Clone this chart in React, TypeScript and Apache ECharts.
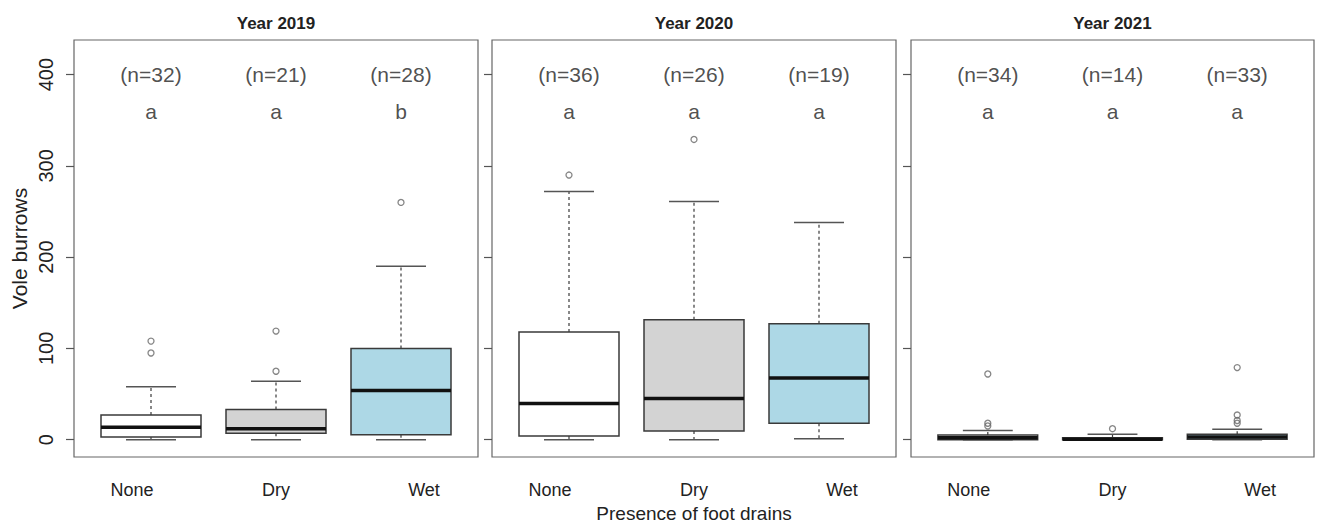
import React, { useEffect, useRef } from "react";
import * as echarts from "echarts";

// ---------- data ----------
const CATEGORIES = ["None", "Dry", "Wet"];
const YEARS = ["Year 2019", "Year 2020", "Year 2021"];
const Y_TICKS = [0, 100, 200, 300, 400];
const X_TITLE = "Presence of foot drains";
const Y_TITLE = "Vole burrows";

// [lower whisker, Q1, median, Q3, upper whisker] per category (None, Dry, Wet)
const STATS_2019 = [
  [0, 3, 13.5, 27, 58],
  [0, 7, 12, 33, 64],
  [0, 5.5, 54, 100, 190],
];
const STATS_2020 = [
  [0, 4, 39.5, 118, 272],
  [0, 9.5, 45, 131.5, 261],
  [1, 18, 67.5, 127, 238],
];
const STATS_2021 = [
  [0, 0, 2, 5, 10],
  [0, 0, 0.5, 2, 6],
  [0, 0.5, 3, 6, 11.5],
];

const OUTLIERS_2019 = [[95, 108], [75, 119], [260]];
const OUTLIERS_2020 = [[290], [329], []];
const OUTLIERS_2021 = [[15, 18, 72], [12], [18, 21, 27, 79]];

const N_2019 = [32, 21, 28];
const N_2020 = [36, 26, 19];
const N_2021 = [34, 14, 33];

const LETTERS_2019 = ["a", "a", "b"];
const LETTERS_2020 = ["a", "a", "a"];
const LETTERS_2021 = ["a", "a", "a"];

const N_LABEL_Y = 400;
const LETTER_Y = 360;

const STATS = [STATS_2019, STATS_2020, STATS_2021];
const OUTLIERS = [OUTLIERS_2019, OUTLIERS_2020, OUTLIERS_2021];
const NS = [N_2019, N_2020, N_2021];
const LETTERS = [LETTERS_2019, LETTERS_2020, LETTERS_2021];

// ---------- style ----------
const FONT = "'Liberation Sans', Arial, Helvetica, sans-serif";
const FILLS = ["#ffffff", "#d3d3d3", "#add8e6"];
const TEXT = "#222";
const GRIDS = [
  { left: 74, top: 40, width: 404, height: 417 },
  { left: 492, top: 40, width: 404, height: 417 },
  { left: 911, top: 40, width: 403, height: 417 },
];
const RICH_KEYS = ["none", "dry", "wet"];

export default function App() {
  const ref = useRef<HTMLDivElement>(null);

  useEffect(() => {
    if (!ref.current) return;
    const chart = echarts.init(ref.current, null, { renderer: "svg" });

    const renderBox = (params: any, api: any) => {
      const x = api.value(0);
      const low = api.value(1);
      const q1 = api.value(2);
      const med = api.value(3);
      const q3 = api.value(4);
      const high = api.value(5);
      const fill = FILLS[Math.round(x) - 1];
      const [xl, yQ3] = api.coord([x - 0.4, q3]);
      const [xr, yQ1] = api.coord([x + 0.4, q1]);
      const [xc, yMed] = api.coord([x, med]);
      const yLow = api.coord([x, low])[1];
      const yHigh = api.coord([x, high])[1];
      const capL = api.coord([x - 0.2, 0])[0];
      const capR = api.coord([x + 0.2, 0])[0];
      const stroke = "#3a3a3a";
      return {
        type: "group",
        children: [
          {
            type: "line",
            shape: { x1: xc, y1: yQ3, x2: xc, y2: yHigh },
            style: { stroke, lineWidth: 1.2, lineDash: [3, 3] },
          },
          {
            type: "line",
            shape: { x1: xc, y1: yQ1, x2: xc, y2: yLow },
            style: { stroke, lineWidth: 1.2, lineDash: [3, 3] },
          },
          {
            type: "line",
            shape: { x1: capL, y1: yHigh, x2: capR, y2: yHigh },
            style: { stroke: "#555", lineWidth: 1.5 },
          },
          {
            type: "line",
            shape: { x1: capL, y1: yLow, x2: capR, y2: yLow },
            style: { stroke: "#555", lineWidth: 1.5 },
          },
          {
            type: "rect",
            shape: { x: xl, y: yQ3, width: xr - xl, height: Math.max(yQ1 - yQ3, 0.5) },
            style: { fill, stroke, lineWidth: 1.5 },
          },
          {
            type: "line",
            shape: { x1: xl, y1: yMed, x2: xr, y2: yMed },
            style: { stroke: "#111", lineWidth: 3.5 },
          },
        ],
      };
    };

    const series: any[] = [];
    YEARS.forEach((_, i) => {
      series.push({
        type: "custom",
        xAxisIndex: i,
        yAxisIndex: i,
        renderItem: renderBox,
        encode: { x: 0, y: [1, 2, 3, 4, 5] },
        data: STATS[i].map((s, k) => [k + 1, ...s]),
        silent: true,
      });
      const outs: number[][] = [];
      OUTLIERS[i].forEach((vals, k) => vals.forEach((v) => outs.push([k + 1, v])));
      series.push({
        type: "scatter",
        xAxisIndex: i,
        yAxisIndex: i,
        symbol: "circle",
        symbolSize: 6,
        itemStyle: { color: "rgba(0,0,0,0)", borderColor: "#666", borderWidth: 1.3 },
        data: outs,
        silent: true,
      });
      series.push({
        type: "scatter",
        xAxisIndex: i,
        yAxisIndex: i,
        symbolSize: 0,
        data: NS[i].map((n, k) => [k + 1, N_LABEL_Y, `(n=${n})`]),
        label: {
          show: true,
          position: "inside",
          formatter: (p: any) => p.value[2],
          fontFamily: FONT,
          fontSize: 21,
          color: TEXT,
        },
        silent: true,
      });
      series.push({
        type: "scatter",
        xAxisIndex: i,
        yAxisIndex: i,
        symbolSize: 0,
        data: LETTERS[i].map((l, k) => [k + 1, LETTER_Y, l]),
        label: {
          show: true,
          position: "inside",
          formatter: (p: any) => p.value[2],
          fontFamily: FONT,
          fontSize: 21,
          color: TEXT,
        },
        silent: true,
      });
    });

    const option: any = {
      animation: false,
      backgroundColor: "#ffffff",
      grid: GRIDS.map((g) => ({
        ...g,
        show: true,
        outerBoundsMode: "none",
        containLabel: false,
        borderColor: "#666",
        borderWidth: 1.2,
        backgroundColor: "transparent",
      })),
      xAxis: YEARS.map((_, i) => ({
        type: "value",
        gridIndex: i,
        min: 0.384,
        max: 3.616,
        axisLine: { show: false },
        axisTick: { show: false },
        splitLine: { show: false },
        axisLabel: {
          customValues: [1, 2, 3],
          margin: 24,
          formatter: (v: number) => {
            const k = Math.round(v) - 1;
            return `{${RICH_KEYS[k]}|${CATEGORIES[k]}}`;
          },
          rich: {
            none: { fontFamily: FONT, fontSize: 18, color: TEXT, padding: [0, 38, 0, 0] },
            dry: { fontFamily: FONT, fontSize: 18, color: TEXT },
            wet: { fontFamily: FONT, fontSize: 18, color: TEXT, padding: [0, 0, 0, 46] },
          },
        },
        name: i === 1 ? X_TITLE : "",
        nameLocation: "middle",
        nameGap: 47,
        nameTextStyle: { fontFamily: FONT, fontSize: 19, color: TEXT, lineHeight: 19 },
      })),
      yAxis: YEARS.map((_, i) => ({
        type: "value",
        gridIndex: i,
        min: -19,
        max: 438,
        axisLine: { show: false },
        splitLine: { show: false },
        axisTick: {
          show: true,
          customValues: Y_TICKS,
          length: 8,
          lineStyle: { color: "#555", width: 1.2 },
        },
        axisLabel: {
          show: i === 0,
          customValues: Y_TICKS,
          rotate: 90,
          margin: 18,
          fontFamily: FONT,
          fontSize: 20,
          color: TEXT,
        },
        name: i === 0 ? Y_TITLE : "",
        nameLocation: "middle",
        nameRotate: 90,
        nameGap: 44,
        nameTextStyle: { fontFamily: FONT, fontSize: 21, color: TEXT },
      })),
      graphic: YEARS.map((y, i) => ({
        type: "text",
        x: GRIDS[i].left + GRIDS[i].width / 2,
        y: 23,
        style: {
          text: y,
          textAlign: "center",
          textVerticalAlign: "middle",
          fontFamily: FONT,
          fontSize: 17,
          fontWeight: "bold",
          fill: TEXT,
        },
      })),
      series,
    };

    chart.setOption(option);
    return () => chart.dispose();
  }, []);

  return (
    <div
      ref={ref}
      style={{ position: "fixed", left: 0, top: 0, width: 1320, height: 524, background: "#fff" }}
    />
  );
}
